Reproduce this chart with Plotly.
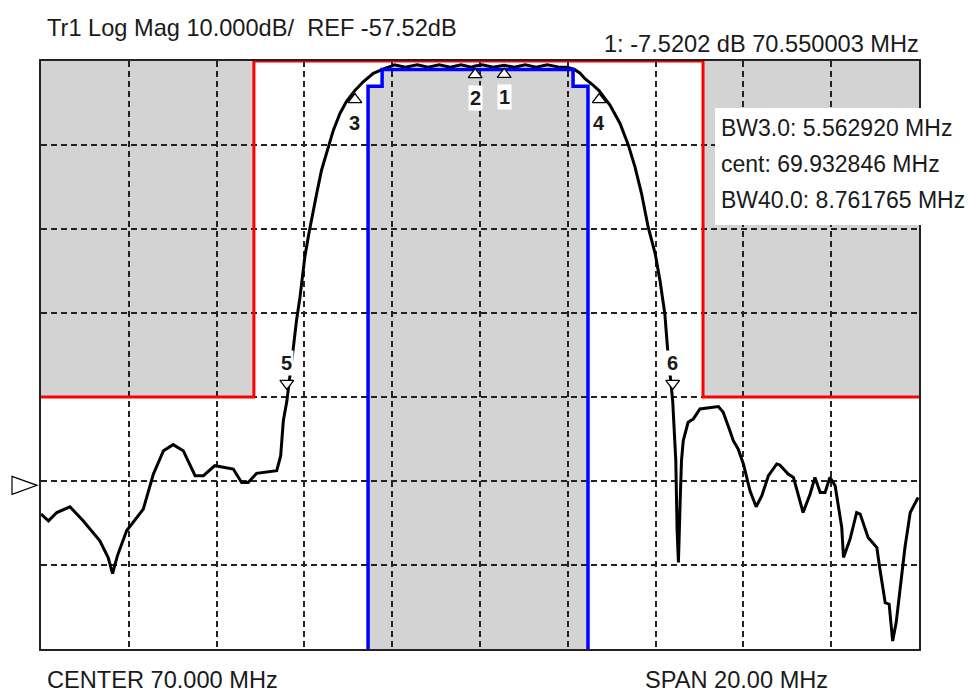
import plotly.graph_objects as go

# ---------------- data ----------------
trace_freq = [60.00, 60.17, 60.36, 60.66, 60.96, 61.34, 61.53, 61.63, 61.74, 61.95,
              62.33, 62.56, 62.79, 63.01, 63.24, 63.51, 63.70, 63.96, 64.38, 64.57,
              64.72, 64.91, 65.37, 65.46, 65.52, 65.60, 65.75, 65.82, 65.90, 66.01,
              66.10, 66.17, 66.28, 66.39, 66.54, 66.66, 66.81, 66.96, 67.15, 67.34,
              67.57, 67.72, 67.85, 67.98, 68.05, 68.30, 68.57, 68.82, 69.07, 69.32,
              69.57, 69.80, 69.89, 70.05, 70.30, 70.55, 70.78, 71.03, 71.28, 71.53,
              71.78, 71.98, 72.15, 72.28, 72.39, 72.56, 72.71, 72.96, 73.19, 73.38,
              73.53, 73.68, 73.83, 73.99, 74.10, 74.21, 74.27, 74.39, 74.42, 74.46,
              74.49, 74.52, 74.56, 74.59, 74.63, 74.74, 74.86, 75.01, 75.43, 75.54,
              75.69, 75.77, 75.88, 76.00, 76.15, 76.29, 76.42, 76.57, 76.76, 76.83,
              77.02, 77.14, 77.36, 77.52, 77.63, 77.75, 77.86, 77.97, 78.09, 78.24,
              78.28, 78.43, 78.58, 78.66, 78.84, 79.04, 79.11, 79.23, 79.32, 79.40,
              79.48, 79.61, 79.68, 79.80, 79.98]
trace_db = [-60.94, -61.74, -60.75, -60.07, -61.74, -64.12, -66.11, -68.02, -65.91, -62.93,
            -60.34, -56.17, -53.39, -52.67, -53.39, -56.37, -56.37, -55.18, -55.57, -57.17,
            -57.17, -56.09, -55.77, -53.98, -49.81, -47.52, -41.07, -37.89, -35.11, -30.30,
            -27.60, -25.60, -22.78, -20.00, -17.22, -15.23, -13.24, -11.80, -10.52, -9.47,
            -8.47, -8.10, -7.85, -7.60, -7.45, -7.75, -7.45, -7.75, -7.45, -7.75,
            -7.45, -7.75, -7.60, -7.45, -7.75, -7.52, -7.75, -7.45, -7.75, -7.45,
            -7.70, -7.75, -8.00, -8.45, -9.10, -9.80, -10.52, -12.25, -14.43, -17.02,
            -19.60, -22.78, -26.76, -29.93, -33.12, -37.09, -41.07, -47.52, -51.36, -54.58,
            -62.93, -66.71, -59.35, -54.58, -52.20, -50.01, -49.61, -48.42, -48.14, -48.82,
            -51.00, -52.20, -53.19, -54.97, -58.16, -60.07, -58.75, -56.37, -54.97, -55.10,
            -56.17, -56.57, -60.75, -58.55, -56.57, -58.36, -58.36, -56.57, -57.56, -62.53,
            -66.11, -63.92, -60.75, -60.94, -63.73, -64.92, -67.50, -71.48, -71.67, -76.05,
            -73.86, -68.09, -64.92, -60.75, -58.96]

# upper limit (red) and lower limit (blue) masks
upper_freq = [60.0, 64.85, 64.85, 75.08, 75.08, 80.0]
upper_db = [-47.0, -47.0, -7.0, -7.0, -47.0, -47.0]
lower_freq = [67.45, 67.45, 67.77, 67.77, 72.12, 72.12, 72.46, 72.46]
lower_db = [-77.0, -10.0, -10.0, -8.0, -8.0, -10.0, -10.0, -77.0]

# markers
marker_names = ["1", "2", "3", "4", "5", "6"]
marker_freq = [70.550003, 69.89, 67.1514, 72.7143, 65.60, 74.39]
marker_db = [-7.52, -7.55, -10.52, -10.52, -47.52, -47.52]

# scale / text
x_start, x_stop, x_div = 60.0, 80.0, 2.0
y_top, y_bottom, y_div = -7.0, -77.0, 10.0
ref_level = -57.52
header_left = "Tr1 Log Mag 10.000dB/  REF -57.52dB"
header_right = "1: -7.5202 dB 70.550003 MHz"
footer_left = "CENTER 70.000 MHz"
footer_right = "SPAN 20.00 MHz"
info_lines = ["BW3.0: 5.562920 MHz", "cent: 69.932846 MHz", "BW40.0: 8.761765 MHz"]

# ---------------- layout helpers ----------------
# the page has an 8px body margin: page pixel = figure pixel + 8
OFF = 8
W, H = 976 - OFF, 693 - OFF
PLOT_L, PLOT_R, PLOT_T, PLOT_B = 41, 919, 61, 649      # page pixels
ML, MR = PLOT_L - OFF, W - (PLOT_R - OFF)
MT, MB = PLOT_T - OFF, H - (PLOT_B - OFF)
PW, PH = W - ML - MR, H - MT - MB
PX_PER_DB = PH / (y_top - y_bottom)


def px(x):
    """page pixel x -> paper coordinate"""
    return (x - PLOT_L) / PW


def py(y):
    """page pixel y -> paper coordinate"""
    return 1 - (y - PLOT_T) / PH


FONT = "Liberation Sans, Arial, sans-serif"
TXT = "#1a1a1a"
GRAY = "#d3d3d3"
FS = 23.6
FS_BOX = 23.0

fig = go.Figure()

# gray fail regions (below grid)
up_path = "M " + " L ".join(f"{f},{d}" for f, d in zip(upper_freq, upper_db))
up_path += f" L {upper_freq[-1]},{y_top} L {upper_freq[0]},{y_top} Z"
lo_path = "M " + " L ".join(f"{f},{d}" for f, d in zip(lower_freq, lower_db)) + " Z"
shapes = [
    dict(type="path", path=up_path, xref="x", yref="y", fillcolor=GRAY,
         line=dict(width=0), layer="below"),
    dict(type="path", path=lo_path, xref="x", yref="y", fillcolor=GRAY,
         line=dict(width=0), layer="below"),
]

# measured trace
fig.add_trace(go.Scatter(x=trace_freq, y=trace_db, mode="lines",
                         line=dict(color="black", width=3), hoverinfo="skip"))
# limit lines
fig.add_trace(go.Scatter(x=upper_freq, y=upper_db, mode="lines",
                         line=dict(color="#ff0000", width=3), hoverinfo="skip"))
fig.add_trace(go.Scatter(x=lower_freq, y=lower_db, mode="lines",
                         line=dict(color="#0000ff", width=3.5), hoverinfo="skip"))

# marker triangles
up_off = 9 / PX_PER_DB
dn_off = 18 / PX_PER_DB
fig.add_trace(go.Scatter(
    x=marker_freq[:4], y=[d - up_off for d in marker_db[:4]], mode="markers",
    marker=dict(symbol="triangle-up", size=12, color="white",
                line=dict(color="black", width=1.3)),
    hoverinfo="skip", cliponaxis=False))
fig.add_trace(go.Scatter(
    x=marker_freq[4:], y=[d + dn_off for d in marker_db[4:]], mode="markers",
    marker=dict(symbol="triangle-down", size=12, color="white",
                line=dict(color="black", width=1.3)),
    hoverinfo="skip", cliponaxis=False))

annotations = []
for i, (n, f, d) in enumerate(zip(marker_names, marker_freq, marker_db)):
    ys = -32 if i < 4 else 38
    annotations.append(dict(x=f, y=d, xref="x", yref="y", text=f"<b>{n}</b>",
                            showarrow=False, yshift=ys, bgcolor="white", borderpad=1,
                            font=dict(family=FONT, size=20, color=TXT)))

# header / footer texts
annotations += [
    dict(x=px(45), y=py(28), xref="paper", yref="paper", text=header_left,
         showarrow=False, xanchor="left", yanchor="middle",
         font=dict(family=FONT, size=FS, color=TXT)),
    dict(x=px(921), y=py(44), xref="paper", yref="paper", text=header_right,
         showarrow=False, xanchor="right", yanchor="middle",
         font=dict(family=FONT, size=FS, color=TXT)),
    dict(x=px(45), y=py(680), xref="paper", yref="paper", text=footer_left,
         showarrow=False, xanchor="left", yanchor="middle",
         font=dict(family=FONT, size=FS, color=TXT)),
    dict(x=px(643), y=py(680), xref="paper", yref="paper", text=footer_right,
         showarrow=False, xanchor="left", yanchor="middle",
         font=dict(family=FONT, size=FS, color=TXT)),
]
for k, line in enumerate(info_lines):
    annotations.append(dict(x=px(719), y=py(128 + 36 * k), xref="paper", yref="paper",
                            text=line, showarrow=False, xanchor="left", yanchor="middle",
                            font=dict(family=FONT, size=FS_BOX, color=TXT)))

# info box
shapes.append(dict(type="rect", xref="paper", yref="paper", x0=px(715), x1=px(980),
                   y0=py(225), y1=py(108), fillcolor="white", line=dict(width=0),
                   layer="above"))
# reference level triangle
tri_h = 9 / PX_PER_DB
shapes.append(dict(type="path", xref="paper", yref="y",
                   path=(f"M {px(12)},{ref_level + tri_h} L {px(37)},{ref_level} "
                         f"L {px(12)},{ref_level - tri_h} Z"),
                   fillcolor="white", line=dict(color="black", width=1.2), layer="above"))

axis_common = dict(showticklabels=False, ticks="", showgrid=True, gridcolor="#222222",
                   gridwidth=1.5, griddash="6px,4px", zeroline=False, showline=True,
                   linecolor="#222222", linewidth=1.5, mirror=True, fixedrange=True)

fig.update_layout(
    width=W, height=H, margin=dict(l=ML, r=MR, t=MT, b=MB),
    paper_bgcolor="white", plot_bgcolor="white", showlegend=False,
    xaxis=dict(range=[x_start, x_stop], tick0=x_start, dtick=x_div, **axis_common),
    yaxis=dict(range=[y_bottom, y_top], tick0=y_top, dtick=y_div, **axis_common),
    shapes=shapes, annotations=annotations,
)

fig.write_html("out.html")
